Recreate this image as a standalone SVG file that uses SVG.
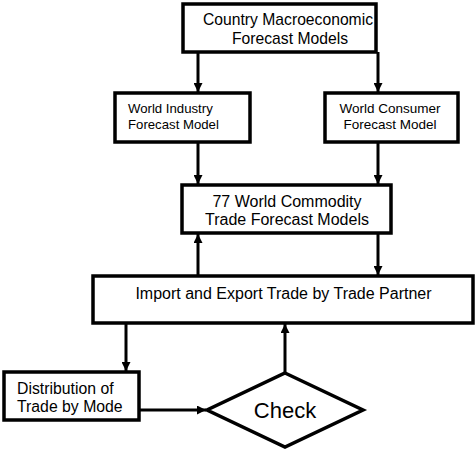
<svg xmlns="http://www.w3.org/2000/svg" width="476" height="452" viewBox="0 0 476 452">
<defs>
<marker id="ah" viewBox="0 0 10 10" refX="10" refY="5" markerWidth="3" markerHeight="3" orient="auto" markerUnits="strokeWidth">
<path d="M0,0 L10,5 L0,10 z" fill="#000"/>
</marker>
<style>
.box{fill:#fff;stroke:#000;stroke-width:3.5}
.t{font-family:"Liberation Sans",Arial,sans-serif;fill:#000}
.c{stroke:#000;stroke-width:3;fill:none;marker-end:url(#ah)}
</style>
</defs>
<rect width="476" height="452" fill="#fff"/>
<g id="connectors">
<line class="c" x1="198" y1="52" x2="198" y2="92"/>
<line class="c" x1="378" y1="52" x2="378" y2="92"/>
<line class="c" x1="198" y1="143" x2="198" y2="184"/>
<line class="c" x1="378" y1="143" x2="378" y2="184"/>
<line class="c" x1="198" y1="275" x2="198" y2="234"/>
<line class="c" x1="378" y1="234" x2="378" y2="275"/>
<line class="c" x1="126" y1="324" x2="126" y2="371"/>
<line class="c" x1="139" y1="410" x2="206" y2="410"/>
<line class="c" x1="285" y1="372" x2="285" y2="324"/>
</g>
<g id="n1">
<rect class="box" x="183" y="4" width="193" height="48"/>
<text class="t" font-size="15.7" x="203" y="25">Country Macroeconomic</text>
<text class="t" font-size="15.7" text-anchor="middle" x="290" y="44">Forecast Models</text>
</g>
<g id="n2">
<rect class="box" x="115" y="93" width="135" height="49"/>
<text class="t" font-size="13.2" x="128" y="113">World Industry</text>
<text class="t" font-size="13.2" x="128" y="129">Forecast Model</text>
</g>
<g id="n3">
<rect class="box" x="325" y="93" width="133" height="49"/>
<text class="t" font-size="13.5" text-anchor="middle" x="390" y="113">World Consumer</text>
<text class="t" font-size="13.5" text-anchor="middle" x="390" y="129">Forecast Model</text>
</g>
<g id="n4">
<rect class="box" x="182" y="185" width="209" height="48"/>
<text class="t" font-size="16" text-anchor="middle" x="287" y="207">77 World Commodity</text>
<text class="t" font-size="16" text-anchor="middle" x="287" y="225">Trade Forecast Models</text>
</g>
<g id="n5">
<rect class="box" x="93" y="276" width="380" height="47"/>
<text class="t" font-size="16" text-anchor="middle" x="283.5" y="299">Import and Export Trade by Trade Partner</text>
</g>
<g id="n6">
<rect class="box" x="4" y="372" width="135" height="48"/>
<text class="t" font-size="15.8" x="17" y="394">Distribution of</text>
<text class="t" font-size="15.8" x="17" y="412">Trade by Mode</text>
</g>
<g id="n7">
<polygon class="box" points="285,373 363,410 285,447 207,410"/>
<text class="t" font-size="22" text-anchor="middle" x="285" y="418">Check</text>
</g>
</svg>
